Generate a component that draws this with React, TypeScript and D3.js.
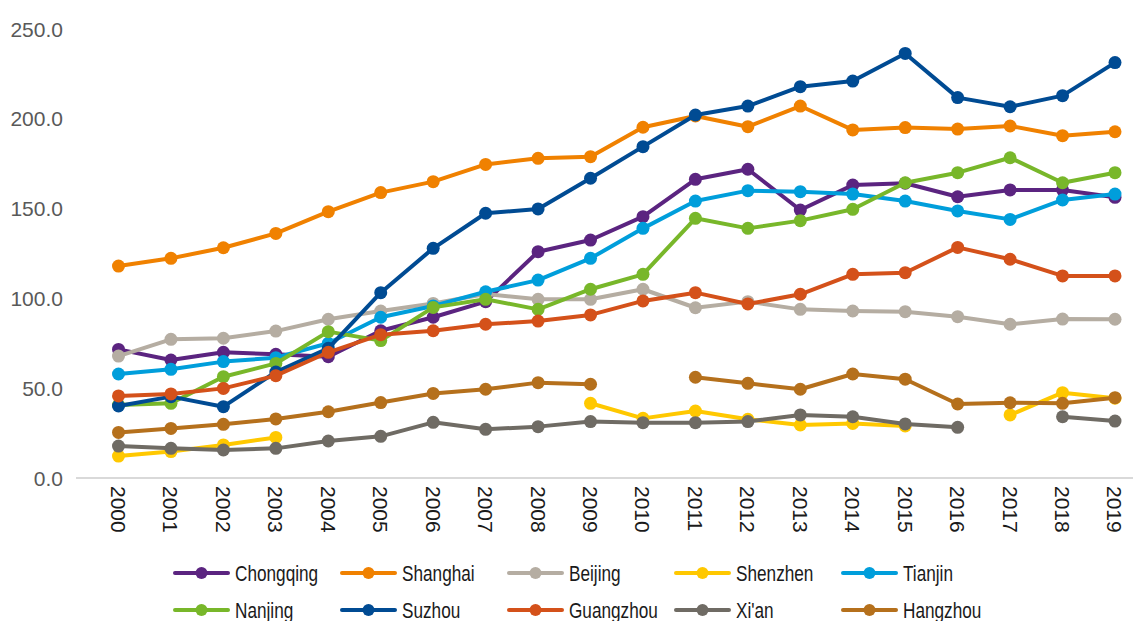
import React from "react";
import * as d3 from "d3";

const years = ["2000","2001","2002","2003","2004","2005","2006","2007","2008","2009","2010","2011","2012","2013","2014","2015","2016","2017","2018","2019"];
const yTicks = [0, 50, 100, 150, 200, 250];

const seriesNames = ["Chongqing","Shanghai","Beijing","Shenzhen","Tianjin","Nanjing","Suzhou","Guangzhou","Xi'an","Hangzhou"];
const seriesColors = ["#5B2480","#F08100","#B5ADA2","#FFC800","#009EDB","#78B72A","#004B93","#D4511A","#6F6B64","#B5701C"];

const chongqing = [71.6,65.7,70.0,68.9,67.5,82.0,89.5,98.2,126.0,132.5,145.5,166.3,171.9,149.2,163.1,164.1,156.6,160.4,160.4,156.3];
const shanghai = [118.0,122.3,128.2,136.2,148.3,158.9,165.0,174.6,178.0,178.9,195.3,201.6,195.6,207.1,193.8,195.1,194.3,196.0,190.6,192.8];
const beijing = [67.9,77.2,77.8,81.8,88.4,93.0,97.2,102.5,99.5,99.5,105.1,94.8,98.2,93.9,93.0,92.6,89.8,85.6,88.5,88.4];
const shenzhen = [12.2,14.7,18.4,22.6,null,null,null,null,null,41.6,33.2,37.3,32.7,29.5,30.4,29.0,null,35.1,47.5,44.4];
const tianjin = [57.9,60.5,64.8,67.0,75.0,89.5,95.8,103.7,110.2,122.3,139.0,154.2,160.0,159.4,158.1,154.2,148.7,144.0,154.8,158.1];
const nanjing = [40.6,41.6,56.4,63.8,81.5,76.5,95.0,99.5,93.9,105.1,113.4,144.6,139.0,143.3,149.6,164.4,170.0,178.3,164.4,170.0];
const suzhou = [40.1,45.3,39.7,59.0,72.2,103.2,127.9,147.4,149.8,166.9,184.5,202.1,207.1,217.9,221.0,236.4,211.8,206.7,212.9,231.3];
const guangzhou = [45.7,46.8,49.9,57.0,70.0,79.8,82.0,85.6,87.4,90.8,98.6,103.2,96.9,102.3,113.4,114.3,128.4,121.8,112.5,112.5];
const xian = [17.8,16.5,15.6,16.5,20.6,23.2,31.0,27.1,28.6,31.4,30.8,30.8,31.4,35.1,34.1,30.1,28.2,null,34.1,31.7];
const hangzhou = [25.4,27.6,29.9,32.9,36.9,42.0,47.1,49.4,53.1,52.2,null,56.1,52.7,49.4,57.9,55.0,41.2,41.9,41.6,44.7];

const seriesValues: (number | null)[][] = [chongqing, shanghai, beijing, shenzhen, tianjin, nanjing, suzhou, guangzhou, xian, hangzhou];

const W = 1133;
const H = 621;

export default function App() {
  const x = d3.scalePoint<string>().domain(years).range([118.5, 1115]);
  const y = d3.scaleLinear().domain([0, 250]).range([478, 29]);
  const line = d3
    .line<number | null>()
    .defined((d) => d !== null)
    .x((_, i) => x(years[i]) as number)
    .y((d) => y(d as number));
  const fmt = d3.format(".1f");

  const legendCols = [175, 342, 509, 676, 843];
  const legendRows = [573, 610];

  return (
    <svg
      width={W}
      height={H}
      style={{ position: "absolute", left: 0, top: 0, background: "#fff" }}
      fontFamily="'Liberation Sans', Arial, sans-serif"
    >
      {/* y tick labels */}
      {yTicks.map((t) => (
        <text key={t} x={63} y={y(t)} dy="0.36em" textAnchor="end" fontSize={21} fill="#595959">
          {fmt(t)}
        </text>
      ))}
      {/* baseline */}
      <line x1={76} x2={1133} y1={y(0)} y2={y(0)} stroke="#D9D9D9" strokeWidth={2} />
      {/* x labels */}
      {years.map((yr) => (
        <text
          key={yr}
          transform={`translate(${x(yr)},486) rotate(90)`}
          textAnchor="start"
          dy="0.36em"
          fontSize={21}
          fill="#1a1a1a"
        >
          {yr}
        </text>
      ))}
      {/* series */}
      {seriesValues.map((vals, si) => (
        <g key={seriesNames[si]}>
          <path d={line(vals) || ""} fill="none" stroke={seriesColors[si]} strokeWidth={4} strokeLinejoin="round" strokeLinecap="round" />
          {vals.map((v, i) =>
            v === null ? null : (
              <circle key={i} cx={x(years[i])} cy={y(v)} r={6.5} fill={seriesColors[si]} />
            )
          )}
        </g>
      ))}
      {/* legend */}
      {seriesNames.map((name, i) => {
        const lx = legendCols[i % 5];
        const ly = legendRows[Math.floor(i / 5)];
        return (
          <g key={name}>
            <line x1={lx} x2={lx + 53} y1={ly} y2={ly} stroke={seriesColors[i]} strokeWidth={4} strokeLinecap="round" />
            <circle cx={lx + 26.5} cy={ly} r={6} fill={seriesColors[i]} />
            <text
              transform={`translate(${lx + 60},${ly}) scale(0.8,1)`}
              dy="0.36em"
              fontSize={21.5}
              fill="#1a1a1a"
            >
              {name}
            </text>
          </g>
        );
      })}
    </svg>
  );
}
